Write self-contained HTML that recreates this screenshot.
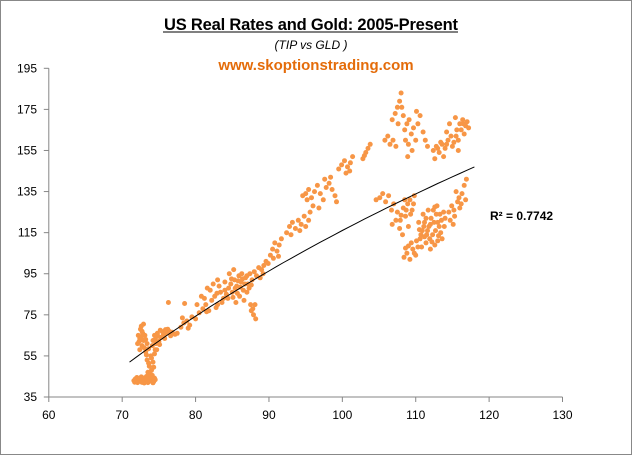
<!DOCTYPE html>
<html><head><meta charset="utf-8"><style>
body{margin:0;background:#fff;}
#wrap{position:relative;width:632px;height:455px;overflow:hidden;font-family:"Liberation Sans",sans-serif;}
svg text{font-family:"Liberation Sans",sans-serif;}
</style></head><body>
<div id="wrap">
<svg id="chart" width="632" height="455">
<rect x="0.5" y="0.5" width="631" height="454" fill="#fff" stroke="#888"/>
<text x="311" y="30" text-anchor="middle" font-size="16.5" font-weight="bold" fill="#000" textLength="294">US Real Rates and Gold: 2005-Present</text>
<line x1="163" y1="32" x2="458" y2="32" stroke="#000" stroke-width="1"/>
<text x="311" y="49" text-anchor="middle" font-size="12" font-style="italic" fill="#000">(TIP vs GLD )</text>
<text x="316" y="70" text-anchor="middle" font-size="15" font-weight="bold" fill="#E46C0A">www.skoptionstrading.com</text>
<g id="axes"></g>
<g id="dots"></g>
<path id="trend" fill="none" stroke="#000" stroke-width="1"/>
<text x="490" y="220" font-size="12" font-weight="bold" fill="#000">R² = 0.7742</text>
</svg>
</div>
<script>
const xTicks=[60,70,80,90,100,110,120,130];
const yTicks=[35,55,75,95,115,135,155,175,195];
const trendCoef=[52,187,71];
const points=[
[71.6,43],[71.9,42.5],[72.2,43.5],[72.5,42.8],[72.8,43.2],[73.1,42.4],[73.4,43.6],[73.7,42.7],[74,43.3],[74.3,42.5],[72,44.5],[72.6,44.8],[73.3,45],[73.9,44.6],[74.4,44.2],[71.8,43.8],[73,41.8],[74.2,41.9],
[71.7,42.2],[72.1,42],[72.4,44],[72.9,44.2],[73.2,43.9],[73.6,44.1],[74.1,45.5],[72.7,42.1],[73.5,42],[74.5,43.4],
[73.5,47],[74,48],[73.7,50],[74.2,52],[73.4,53],[73.9,55],[74.4,56],[73.2,57],[73.6,58.5],[74.1,60],[74.6,61],[73,59],
[73.8,46],[74.3,49.5],[73.6,51.5],[74,54],[73.3,55.5],[74.5,58],
[72.3,62],[72.6,64],[72.8,66],[72.5,68],[72.9,70.5],[72.2,65],[73.2,63],[72.7,60],[73.4,61],[72.4,58],
[72.4,63.5],[72.9,62.5],[72.7,67],[73.1,65],[72.1,61],[72.6,69.5],
[74.5,63],[75,62],[75.3,64],[75.6,65],[76,66],[76.4,67],[75.8,63.5],[74.8,66],[75.2,67.5],[76.8,66.5],[77.2,65.5],[76.2,68],[74.7,58],
[74.2,62.5],[74.9,64.5],[75.5,66.8],[75.1,60.5],[76.6,64.8],[75.9,67.8],[74.4,65],
[77.5,66],[78,69],[78.4,71],[78.8,72],[79.2,70],[79.5,74],[78.2,73.5],[80,73],[79,68.5],[76.3,81],
[80.5,76],[81,78],[81.4,80],[81.8,77],[82.2,82],[82.6,84],[83,80],[83.4,86],[83.8,83],[81.2,83],[81.6,88],[82.4,90],[83,92],[82,87],[80.2,80],[78.5,80.5],[80.8,84],
[81.5,76.5],[82.8,78.5],[83.6,81],[83.2,89],[84,87],[82.9,85.5],
[84.2,85],[84.5,88],[84.8,90],[85,86],[85.3,92],[85.6,89],[85.9,94],[86.2,91],[86.5,87],[86.8,93],[87.1,90],[87.4,95],[87.7,92],[88,96],[84.6,95],[85.2,97],[86,84],[86.6,82],[87,86],[85.5,81],[84,91],[88.3,94],[88.6,98],[88.8,93],
[84.9,92.5],[85.4,88],[85.8,91.5],[86.1,88.5],[86.4,92.5],[86.7,90],[87,94],[87.3,88],[85.7,85.5],[86.3,95],[87.6,89.5],[84.4,83],[85.1,83.5],
[87.5,80],[87.8,78],[88.1,80],[87.9,75],[88.2,73],[87.6,77],
[89,97],[89.3,99],[89.6,101],[89.9,100],[89.2,95],
[90.2,104],[90.5,107],[90.8,110],[91.1,106],[91.4,109],[91.7,112],[90.6,102.5],[91.3,103.5],
[92.4,115],[92.8,118],[93.2,120],[93.6,117],[94,121],[94.4,119],[94.8,123],[93,114],[94.2,116],[95,118],[95.4,121],[95.6,125],
[94.6,133],[95,134],[95.4,136],[95.8,132],[96.2,135],[96.6,138],[97,134],[97.4,131],[97.8,137],[98.2,139],[98.6,136],[99,133],[99.2,130],[96,128],[96.8,127],[97.6,141],[98.4,142],[95.2,131],
[99.5,146],[99.9,148],[100.3,150],[100.7,147],[101.1,149],[101.4,152],[101,145],[100.5,144],
[102.8,151],[103.2,154],[103.5,156],[103.8,158],[103,152.5],
[105.8,160],[106.2,162],[106.5,158],[106.9,160],[107.3,157],
[106.8,170],[107.2,173],[107.5,176],[107.8,179],[108,183],[107.6,168],[108.3,172],[108.1,176],
[108.5,165],[108.8,168],[109.1,170],[109.4,163],[109.7,166],[110,160],[110.3,168],[109,158],[108.9,152],[110.6,172],[110.1,174],[109.5,155],[111,164],[111.3,160],[108.6,160],[111.6,157],
[112.4,155],[112.8,157],[113.2,154],[113.6,158],[114,156],[114.4,160],[114.8,162],[115.2,159],[115.6,165],[116,168],[116.4,170],[116.8,167],[117.2,166],[115.4,171],[114.6,168],[113.8,152],[115.8,155],[116.6,163],[114.2,164],[112.6,151],
[113,156],[113.4,159],[114.2,158],[115,157],[115.8,160],[116.2,165],[116.5,168],[117,169],[115.5,162],
[104.6,131],[105.1,132],[105.5,134],[105.9,130],[106.3,133],[107,129],[106.7,126],
[107.5,125],[107.9,121],[108.3,127],[108.6,123],[108.9,129],[109.2,131],[109.5,126],[107.8,117],[108.2,114],[106.8,119],[109.8,133],[109,118],[108.5,131],
[108,123.5],[108.7,126],[109.3,124],[109.7,129],[107.3,121],
[108.4,103],[108.8,105],[109.2,102],[109.6,107],[110,104],[109.4,110],[110.3,108],
[108.6,107.5],[109,108.5],[109.8,105],[110.1,111],
[110.6,112],[110.9,116],[111.2,120],[111.5,114],[111.8,118],[112.1,122],[112.4,126],[112.7,116],[113,120],[113.3,124],[113.6,112],[113.9,118],[110.8,108],[111.4,110],[112,107],[112.6,109],[111,124],[111.7,126],[112.9,128],[113.4,115],[114,122],[110.4,120],
[110.7,114],[111.1,118],[111.4,122],[111.6,116],[112,119],[112.3,114],[112.5,120],[112.8,124],[113.2,118],[113.5,121],[113.8,125],[111.9,112],[112.2,110.5],[113,111],[111.2,113],[110.5,116.5],[112.6,127.5],[113.1,113.5],
[114.5,125],[114.9,128],[115.3,123],[115.7,130],[116,127],[116.3,134],[116.6,138],[116.9,141],[115.1,119],[115.5,135],[116.8,131],
[114.7,121],[115.2,126],[115.9,132],[116.2,129]
];
const NS="http://www.w3.org/2000/svg";
const X0=48.8,X1=562.5,Y0=397,Y1=68.3;
function sx(v){return X0+(v-60)/70*(X1-X0);}
function sy(v){return Y0-(v-35)/160*(Y0-Y1);}
const axes=document.getElementById('axes');
function mk(tag,attrs,parent){const e=document.createElementNS(NS,tag);for(const k in attrs)e.setAttribute(k,attrs[k]);parent.appendChild(e);return e;}
const ya=mk('line',{x1:X0,y1:Y1,x2:X0,y2:Y0,stroke:'#868686'},axes);


const xa=mk('line',{x1:X0,y1:Y0,x2:X1,y2:Y0,stroke:'#868686'},axes);


yTicks.forEach(v=>{
 const y=sy(v);
 mk('line',{x1:X0-5,y1:y,x2:X0,y2:y,stroke:'#868686'},axes);
 const t=mk('text',{x:37,y:y+4,'text-anchor':'end','font-size':'12',fill:'#000'},axes);
 t.textContent=v;
 
 
});
xTicks.forEach(v=>{
 const x=sx(v);
 mk('line',{x1:x,y1:Y0,x2:x,y2:Y0+5,stroke:'#868686'},axes);
 const t=mk('text',{x:x,y:419,'text-anchor':'middle','font-size':'12',fill:'#000'},axes);
 t.textContent=v;
 
 
});
const dots=document.getElementById('dots');
points.forEach(p=>{
 const c=mk('circle',{cx:sx(p[0]).toFixed(1),cy:sy(p[1]).toFixed(1),r:2.5,fill:'#F79646'},dots);
 
 
});
let d='';
for(let x=71;x<=118;x+=1){const y=trendCoef[0]+trendCoef[1]*Math.log(x/trendCoef[2]);d+=(d?'L':'M')+sx(x).toFixed(1)+','+sy(y).toFixed(1);}
document.getElementById('trend').setAttribute('d',d);
</script>
</body></html>
